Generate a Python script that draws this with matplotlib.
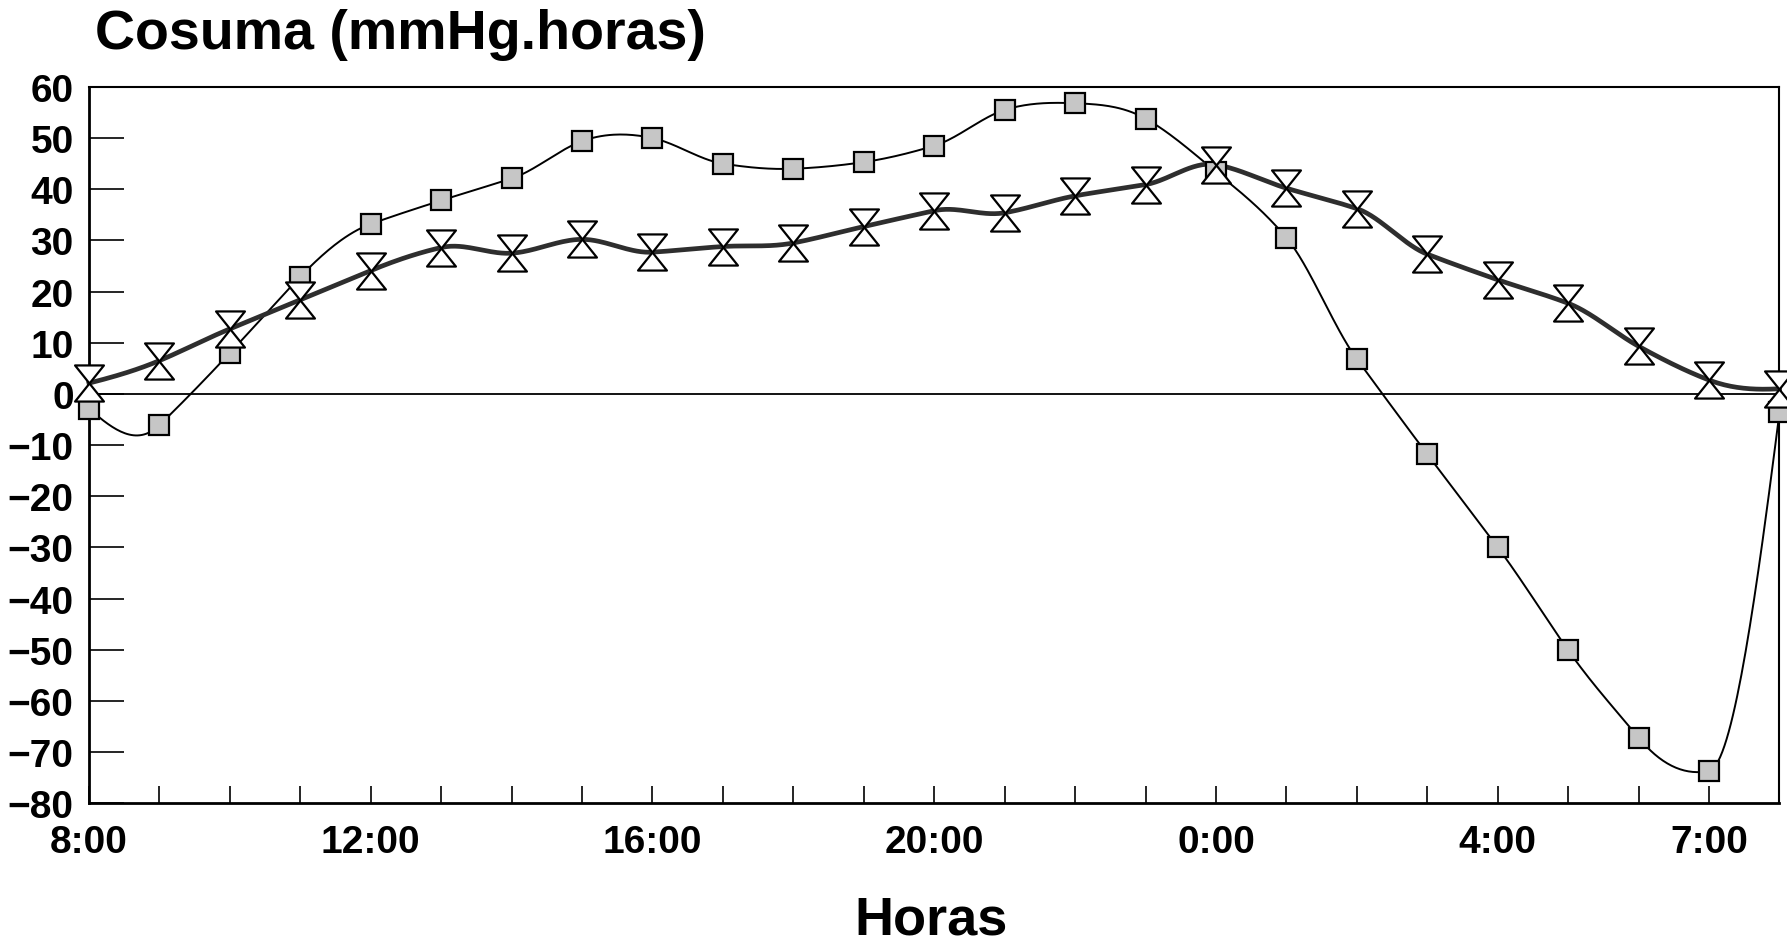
import matplotlib

matplotlib.use("Agg")
import matplotlib.pyplot as plt
import numpy as np
from matplotlib.path import Path

# hours since 8:00, one reading per hour up to 8:00 next day
hours = np.arange(25)
tick_pos = [0, 4, 8, 12, 16, 20, 23]
tick_labels = ["8:00", "12:00", "16:00", "20:00", "0:00", "4:00", "7:00"]

# cosuma, square series (thin line)
squares = [-2.9, -6.1, 8.0, 22.9, 33.2, 37.8, 42.1, 49.4, 50.0, 45.0, 44.0, 45.3, 48.5,
           55.5, 56.8, 53.8, 43.4, 30.5, 6.8, -11.8, -30.0, -50.1, -67.2, -73.7, -3.6]
# cosuma, hourglass series (thick line)
hourglass = [2.1, 6.5, 12.7, 18.4, 24.1, 28.6, 27.5, 30.2, 27.7, 28.8, 29.5, 32.7, 35.8,
             35.4, 38.7, 40.9, 44.8, 40.2, 36.2, 27.3, 22.3, 17.7, 9.3, 2.7, 1.0]

FONT = "Liberation Sans"


def akima(x, y, n=800):
    """Smooth curve through the points (Akima spline), only used for drawing."""
    x = np.asarray(x, float)
    y = np.asarray(y, float)
    h = np.diff(x)
    d = np.diff(y) / h
    # two extra slopes on each end
    d = np.concatenate([[3 * d[0] - 2 * d[1], 2 * d[0] - d[1]], d,
                        [2 * d[-1] - d[-2], 3 * d[-1] - 2 * d[-2]]])
    w1 = np.abs(d[3:] - d[2:-1])
    w2 = np.abs(d[1:-2] - d[:-3])
    den = w1 + w2
    m = np.where(den > 1e-9, (w1 * d[1:-2] + w2 * d[2:-1]) / np.where(den > 1e-9, den, 1),
                 0.5 * (d[1:-2] + d[2:-1]))
    xs = np.linspace(x[0], x[-1], n)
    i = np.clip(np.searchsorted(x, xs) - 1, 0, len(x) - 2)
    hh = h[i]
    t = (xs - x[i]) / hh
    h00 = 2 * t**3 - 3 * t**2 + 1
    h10 = t**3 - 2 * t**2 + t
    h01 = -2 * t**3 + 3 * t**2
    h11 = t**3 - t**2
    ys = h00 * y[i] + h10 * hh * m[i] + h01 * y[i + 1] + h11 * hh * m[i + 1]
    return xs, ys


# two triangles tip to tip (down-pointing on top, up-pointing below)
_hg = Path(
    [(-0.8, 1.0), (0.8, 1.0), (0.0, 0.0), (-0.8, 1.0),
     (0.0, 0.0), (-0.8, -1.0), (0.8, -1.0), (0.0, 0.0)],
    [Path.MOVETO, Path.LINETO, Path.LINETO, Path.CLOSEPOLY,
     Path.MOVETO, Path.LINETO, Path.LINETO, Path.CLOSEPOLY],
)

fig = plt.figure(figsize=(17.87, 9.45), dpi=100)
ax = fig.add_axes([0.0498, 0.149, 0.946, 0.758])

ax.axhline(0, color="black", lw=1.3, zorder=1)

xs, ys = akima(hours, squares)
ax.plot(xs, ys, color="black", lw=1.4, zorder=2, clip_on=False)
xs, ys = akima(hours, hourglass)
ax.plot(xs, ys, color="#2e2e2e", lw=3.4, zorder=3, clip_on=False)

ax.plot(hours, squares, ls="none", marker="s", ms=15, mfc="#c6c6c6", mec="black",
        mew=1.6, zorder=4, clip_on=False)
ax.plot(hours, hourglass, ls="none", marker=_hg, ms=26, mfc="white", mec="black",
        mew=1.6, zorder=5, clip_on=False)

ax.set_xlim(0, 24)
ax.set_ylim(-80, 60)
ax.set_yticks(np.arange(-80, 61, 10))
ax.set_xticks(tick_pos)
ax.set_xticklabels(tick_labels)
ax.set_xticks(hours, minor=True)
ax.tick_params(axis="y", direction="in", length=25, width=1.2, pad=11)
ax.tick_params(axis="x", which="both", direction="in", length=12, width=1.2, pad=15)
for lab in ax.get_xticklabels() + ax.get_yticklabels():
    lab.set_fontfamily(FONT)
    lab.set_fontweight("bold")
    lab.set_fontsize(28)
for side in ax.spines.values():
    side.set_linewidth(1.5)
ax.spines["left"].set_linewidth(2.0)
ax.spines["bottom"].set_linewidth(2.0)

fig.text(0.053, 0.963, "Cosuma (mmHg.horas)", fontfamily=FONT, fontweight="bold",
         fontsize=40, ha="left", va="center")
fig.text(0.521, 0.011, "Horas", fontfamily=FONT, fontweight="bold", fontsize=39,
         ha="center", va="baseline")

fig.savefig("out.png", dpi=100)
